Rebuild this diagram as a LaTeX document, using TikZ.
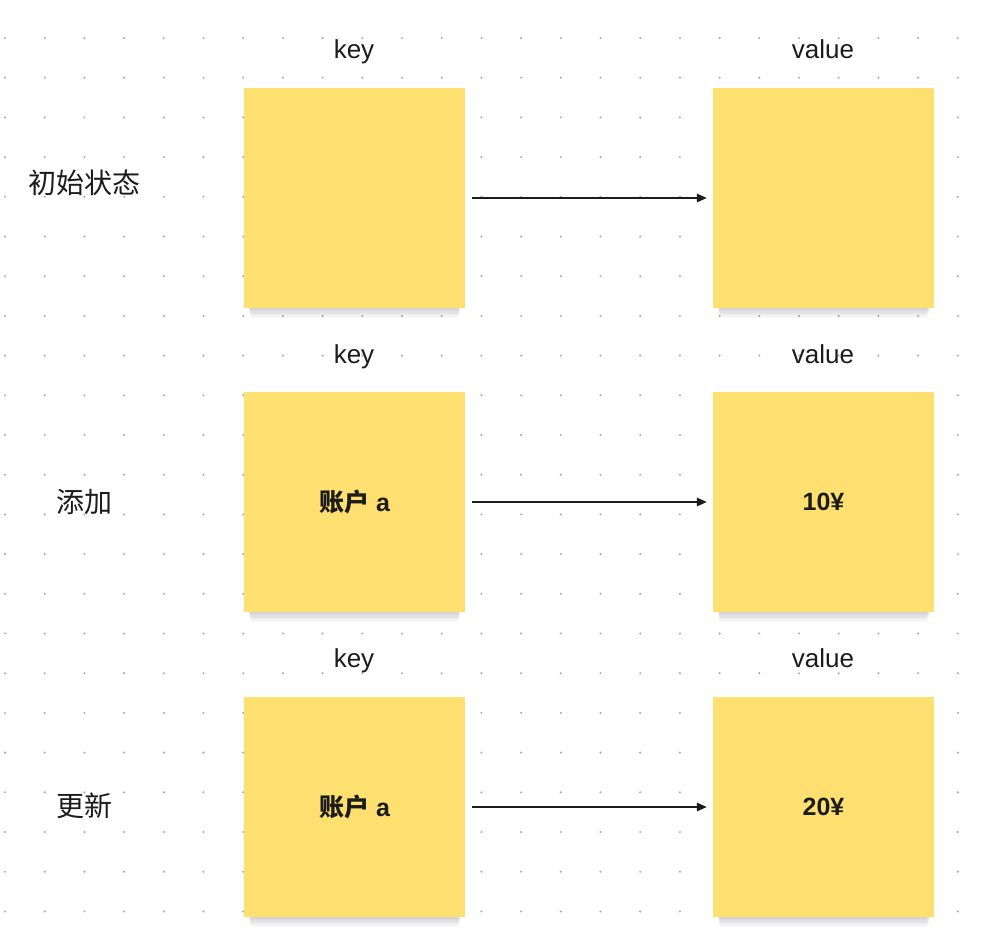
\documentclass[tikz,border=0pt]{standalone}
\usepackage{fontspec}
\setmainfont{Liberation Sans}
\newfontfamily\cjk{Noto Sans CJK SC}
\usetikzlibrary{arrows.meta}
\definecolor{stick}{HTML}{FEE070}
\definecolor{dotc}{HTML}{ABABAB}
\definecolor{ink}{HTML}{1C1C1C}
\tikzset{
  note/.style={fill=stick, draw=none, minimum width=221pt, minimum height=220pt, inner sep=0pt,
    text=ink, font=\fontsize{25}{30}\selectfont\bfseries},
  lbl/.style={text=ink, inner sep=0pt, anchor=base, font=\fontsize{26}{30}\selectfont},
  rowlbl/.style={text=ink, inner sep=0pt, font=\fontsize{28}{32}\selectfont\cjk},
  link/.style={draw=ink, line width=1.5pt, -{Triangle[length=10pt,width=8.5pt]}, shorten <=7pt, shorten >=6pt},
}
\newcommand{\noteshadow}[2]{%
  \foreach \k in {1,...,8}{%
    \fill[black, opacity=0.025] (#1-107+0.4*\k,#2+90) rectangle (#1+107-0.4*\k,#2+109+1.4*\k);
  }%
}
\begin{document}
\begin{tikzpicture}[x=1pt,y=-1pt]
\useasboundingbox (0,0) rectangle (981,945);
\fill[white] (0,0) rectangle (981,945);
% dot grid
\foreach \i in {0,...,24}{
  \foreach \j in {0,...,23}{
    \fill[dotc] (5+39.7*\i, -1.7+39.7*\j) circle (1.15pt);
  }
}
% headers
\node[lbl] (kh1) at (354,58.5) {key};
\node[lbl] (vh1) at (823,58.5) {value};
\node[lbl] (kh2) at (354,363) {key};
\node[lbl] (vh2) at (823,363) {value};
\node[lbl] (kh3) at (354,667.5) {key};
\node[lbl] (vh3) at (823,667.5) {value};
% row labels
\node[rowlbl] (r1) at (84.5,183) {初始状态};
\node[rowlbl] (r2) at (84.5,502) {添加};
\node[rowlbl] (r3) at (84.5,806) {更新};
% shadows
\noteshadow{354.5}{198}
\noteshadow{823.5}{198}
\noteshadow{354.5}{502}
\noteshadow{823.5}{502}
\noteshadow{354.5}{807}
\noteshadow{823.5}{807}
% notes
\node[note] (k1) at (354.5,198) {};
\node[note] (v1) at (823.5,198) {};
\node[note] (k2) at (354.5,502) {{\cjk\bfseries 账户} a};
\node[note] (v2) at (823.5,502) {10¥};
\node[note] (k3) at (354.5,807) {{\cjk\bfseries 账户} a};
\node[note] (v3) at (823.5,807) {20¥};
% links
\draw[link] (k1) -- (v1);
\draw[link] (k2) -- (v2);
\draw[link] (k3) -- (v3);
\end{tikzpicture}
\end{document}
